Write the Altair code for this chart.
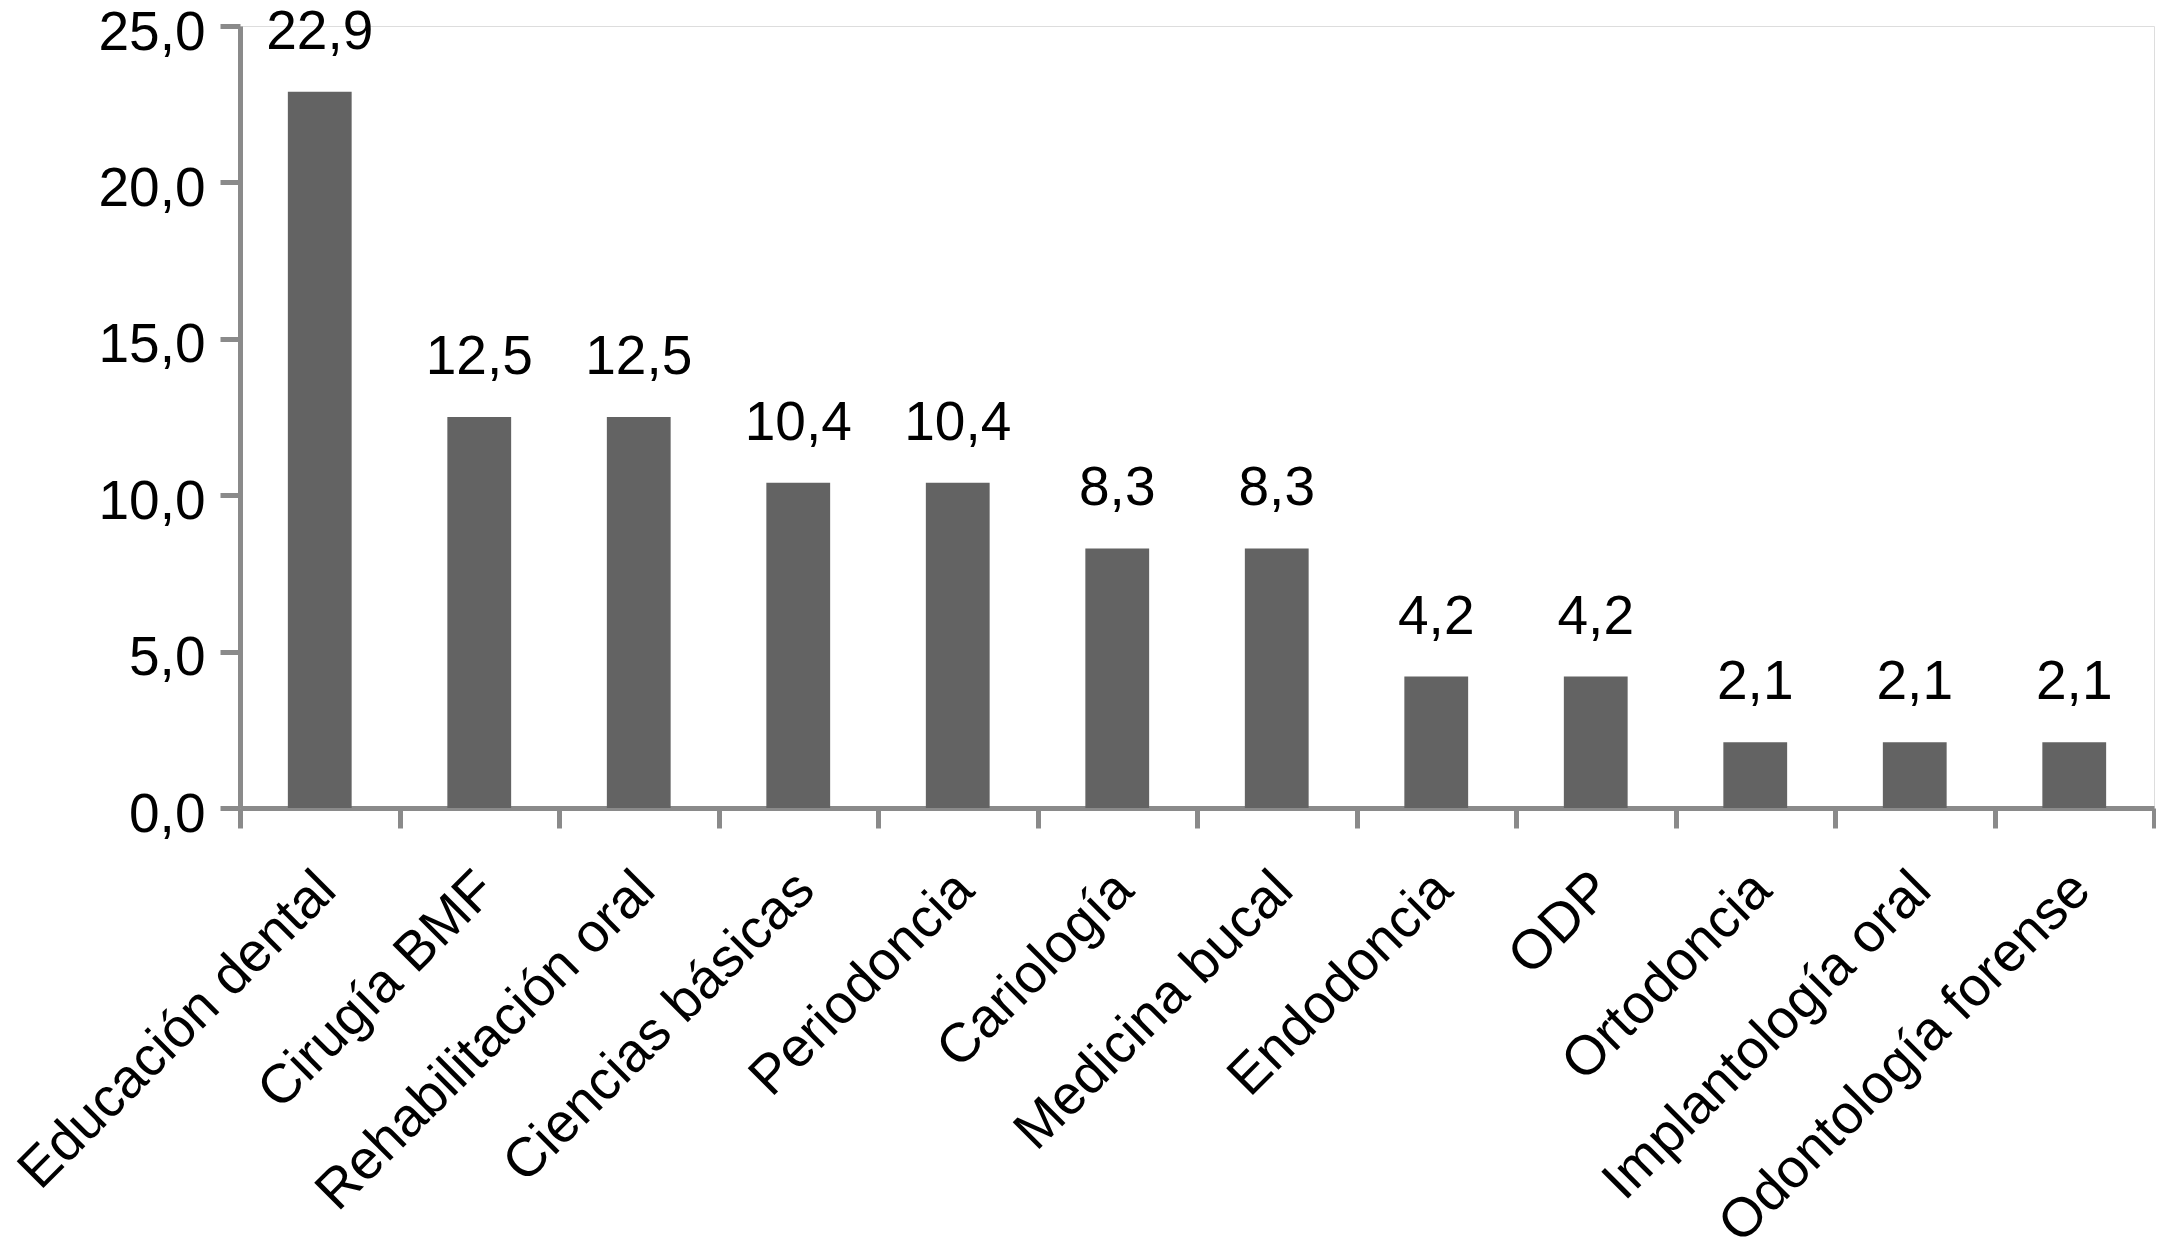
import altair as alt
import pandas as pd

categories = ["Educación dental", "Cirugía BMF", "Rehabilitación oral", "Ciencias básicas",
              "Periodoncia", "Cariología", "Medicina bucal", "Endodoncia", "ODP",
              "Ortodoncia", "Implantología oral", "Odontología forense"]
values = [22.9, 12.5, 12.5, 10.4, 10.4, 8.3, 8.3, 4.2, 4.2, 2.1, 2.1, 2.1]
y_ticks = [0, 5, 10, 15, 20, 25]

df = pd.DataFrame({"cat": categories, "val": values})
df["label"] = [f"{v:.1f}".replace(".", ",") for v in values]

W, H = 1914, 782
FONT = "Liberation Sans"
FS = 55
AXIS_GRAY = "#8a8a8a"

x_enc = alt.X("cat:N", sort=categories, title=None,
              scale=alt.Scale(paddingInner=0, paddingOuter=0),
              axis=alt.Axis(tickBand="extent", labelAngle=-45, labelAlign="right",
                            labelBaseline="top", labelPadding=34, labelOffset=-12,
                            labelFont=FONT, labelFontSize=FS, labelColor="black",
                            tickSize=20, tickWidth=5, tickColor=AXIS_GRAY, domainWidth=5,
                            domainColor=AXIS_GRAY, grid=False, labelLimit=1000))
y_enc = alt.Y("val:Q", title=None,
              scale=alt.Scale(domain=[0, 25], nice=False),
              axis=alt.Axis(values=y_ticks,
                            labelExpr="replace(format(datum.value, '.1f'), '.', ',')",
                            labelFont=FONT, labelFontSize=FS, labelColor="black",
                            labelBaseline="middle", labelOffset=6,
                            tickSize=20, tickWidth=5, tickColor=AXIS_GRAY,
                            domainWidth=5, domainColor=AXIS_GRAY, grid=False,
                            labelPadding=15))

bars = alt.Chart(df).mark_bar(color="#636363", width=alt.RelativeBandSize(0.4)).encode(
    x=x_enc, y=y_enc)
text = alt.Chart(df).mark_text(font=FONT, fontSize=FS, color="black",
                               baseline="alphabetic", dy=-43).encode(
    x=alt.X("cat:N", sort=categories), y="val:Q", text="label:N")

chart = (bars + text).properties(
    width=W, height=H,
    autosize=alt.AutoSizeParams(type="none"),
    padding={"left": 232, "top": 18, "right": 2, "bottom": 438},
).configure_view(stroke=None).configure(background="white")

chart.save("out.html", embed_options={"renderer": "svg", "actions": False})
